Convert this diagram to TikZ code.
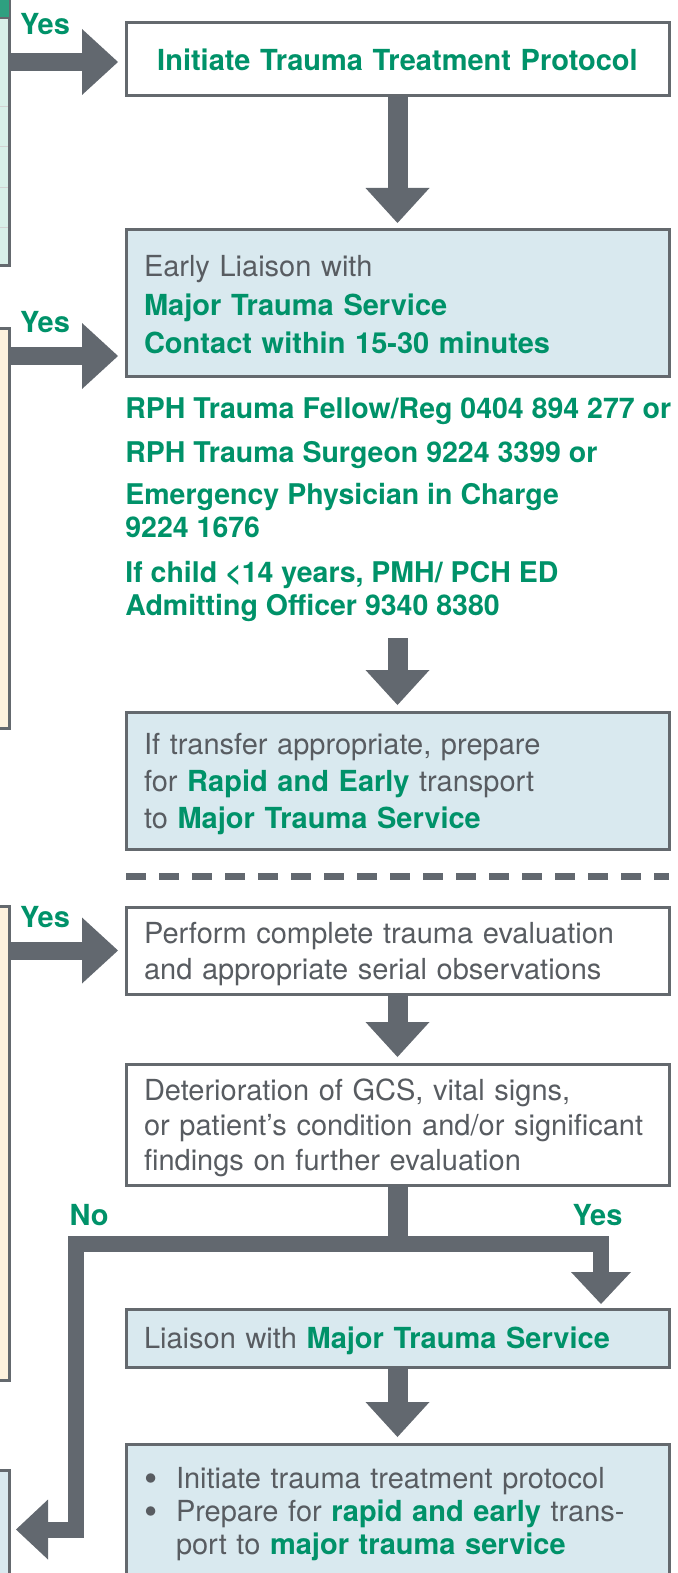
\documentclass[tikz,border=0pt]{standalone}
\usepackage{fontspec}
\setmainfont{TeX Gyre Heros}
\usepackage{tikz}
\usetikzlibrary{arrows.meta, calc, positioning}

\definecolor{ntgreen}{RGB}{0,146,105}
\definecolor{arrowgray}{RGB}{98,104,111}
\definecolor{boxline}{RGB}{100,105,110}
\definecolor{txtgray}{RGB}{88,92,97}
\definecolor{paleblue}{RGB}{217,233,239}
\definecolor{beige}{RGB}{254,242,222}
\definecolor{mint}{RGB}{216,239,232}
\definecolor{hdrteal}{RGB}{46,160,128}

\newcommand{\grn}[1]{\textbf{\textcolor{ntgreen}{#1}}}
\newcommand{\bfont}[1]{\fontsize{14.5pt}{#1}\selectfont}
\newcommand{\blt}{\makebox[16pt][l]{\smash{\raisebox{-0.1em}{\scalebox{1.3}{\textbullet}}}}}

\tikzset{
  box/.style={draw=boxline, line width=1.5pt, outer sep=0pt, minimum width=271.5pt,
    text width=253.5pt, inner xsep=9pt, inner ysep=0pt, align=left, text=txtgray,
    anchor=north west},
  bluebox/.style={box, fill=paleblue, text height=14pt},
  whitebox/.style={box, fill=white, text height=14pt},
  sidebox/.style={draw=boxline, line width=1.5pt, outer sep=0pt, minimum width=20pt,
    inner sep=0pt, anchor=north east},
  lbl/.style={font=\bfont{17pt}\bfseries, text=ntgreen, inner sep=0pt},
  vshaft/.style={draw=arrowgray, line width=10pt,
    -{Triangle[length=17.5pt, width=32pt, line width=0pt]}, shorten >=3.5pt},
  hshaft/.style={draw=arrowgray, line width=9pt,
    -{Triangle[length=18pt, width=33pt, line width=0pt]}, shorten >=4pt},
  lshaft/.style={draw=arrowgray, line width=8pt, line join=miter,
    -{Triangle[length=16pt, width=30pt, line width=0pt]}}
}

\begin{document}
\begin{tikzpicture}[x=0.5pt, y=-0.5pt]
  \useasboundingbox (0,0) rectangle (677,1573);

  % boxes cut off on the left edge
  \node[sidebox, fill=mint, minimum height=138pt] (physio) at (9.5,-10) {};
  \fill[hdrteal] (-30,-10) rectangle (8.75,18);
  \draw[boxline, line width=1pt] (-30,18.5) -- (8.75,18.5);
  \foreach \y in {107,147,188,228}
    \draw[gray!35, line width=0.5pt] (-5,\y) -- (8,\y);
  \node[sidebox, fill=beige, minimum height=200pt] (injury) at (9.5,328) {};
  \node[sidebox, fill=beige, minimum height=237pt] (mechanism) at (9.5,906) {};
  \node[sidebox, fill=paleblue, minimum height=65pt] (minor) at (9.5,1470) {};

  % right column
  \node[box, fill=white, minimum height=36.5pt, align=center, font=\bfont{17.5pt}] (init) at (126,23)
    {\grn{Initiate Trauma Treatment Protocol}};
  \node[bluebox, minimum height=73pt, font=\bfont{19.25pt}, text height=12.5pt] (early) at (126,230)
    {Early Liaison with\\ \grn{Major Trauma Service}\\ \grn{Contact within 15-30 minutes}};
  \node[below right=10.5pt and -0.5pt of early.south west, inner sep=0pt, align=left,
    font=\fontsize{14.25pt}{16.6pt}\selectfont\bfseries, text=ntgreen] (phones)
    {RPH Trauma Fellow/Reg 0404 894 277 or\\[5.4pt]
     RPH Trauma Surgeon 9224 3399 or\\[4.5pt]
     Emergency Physician in Charge\\
     9224 1676\\[6pt]
     If child <14 years, PMH/ PCH ED\\
     Admitting Officer 9340 8380};
  \coordinate (phonesout) at (397.5,638);
  \node[bluebox, minimum height=68.5pt, font=\bfont{18.4pt}] (transfer) at (126,712)
    {If transfer appropriate, prepare\\ for \grn{Rapid and Early} transport\\
     to \grn{Major Trauma Service}};

  % separator
  \draw[arrowgray, line width=3.5pt, dash pattern=on 10pt off 6.5pt]
    ($(transfer.south west)+(0,27)$) -- ($(transfer.south east)+(0,27)$);

  \node[whitebox, minimum height=43.5pt, font=\bfont{17.75pt}] (perform) at (126,907)
    {Perform complete trauma evaluation\\ and appropriate serial observations};
  \node[whitebox, minimum height=60.5pt, font=\bfont{17.5pt}] (deter) at (126,1064)
    {Deterioration of GCS, vital signs,\\ or patient’s condition and/or significant\\
     findings on further evaluation};
  \node[bluebox, minimum height=29pt, font=\bfont{17.5pt}] (liaison) at (126,1309)
    {Liaison with \grn{Major Trauma Service}};
  \node[bluebox, minimum height=67pt, font=\bfont{16.5pt}] (bullets) at (126,1444)
    {\blt Initiate trauma treatment protocol\\
     \blt Prepare for \grn{rapid and early} trans-\\
     \hspace*{16pt}port to \grn{major trauma service}};

  % yes arrows from the left
  \draw[hshaft] ($(physio.east |- init.west)+(0,2.5)$) -- ($(init.west)+(0,2.5)$);
  \draw[hshaft] (injury.east |- {$(early.west)+(0,53)$}) -- ($(early.west)+(0,53)$);
  \draw[hshaft] (mechanism.east |- perform.west) -- (perform.west);
  \node[lbl] (yes1) at (45,24) {Yes};
  \node[lbl] (yes2) at (45,322) {Yes};
  \node[lbl] (yes3) at (45,917) {Yes};

  % down arrows
  \draw[vshaft] (init.south) -- (early.north);
  \draw[vshaft] (phonesout) -- (transfer.north);
  \draw[vshaft] (perform.south) -- (deter.north);
  \draw[vshaft] (liaison.south) -- (bullets.north);

  % split after deterioration
  \coordinate (split) at (397.5,1244);
  \coordinate (nocorner) at (75.5,1529.5);
  \draw[arrowgray, line width=10pt] (deter.south) -- ($(split)+(0,8)$);
  \draw[lshaft, shorten >=2.5pt] (split) -| ($(liaison.north east)+(-68,0)$);
  \draw[lshaft, shorten >=3.25pt] (split) -| (nocorner) -- (nocorner -| minor.east);
  \node[lbl] (no) at (89,1215) {No};
  \node[lbl] (yes4) at (597.5,1215) {Yes};
\end{tikzpicture}
\end{document}
